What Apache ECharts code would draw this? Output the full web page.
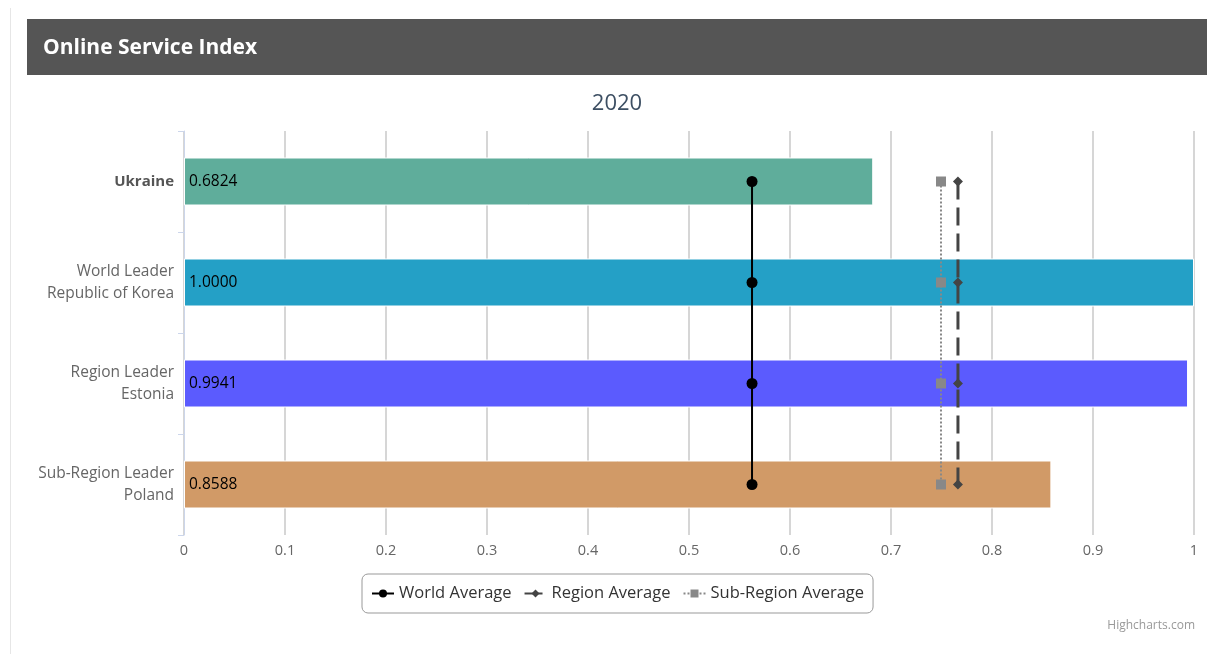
<!DOCTYPE html>
<html>
<head>
<meta charset="utf-8">
<script src="https://cdn.jsdelivr.net/npm/echarts@6/dist/echarts.min.js"></script>
<style>
  html, body { margin: 0; padding: 0; background: #fff; }
  #chart { width: 1209px; height: 654px; }
</style>
</head>
<body>
<div id="chart"></div>
<script>
// Online Service Index, 2020
const categories = [
  'Ukraine',
  'World Leader\nRepublic of Korea',
  'Region Leader\nEstonia',
  'Sub-Region Leader\nPoland'
];
const scores = [0.6824, 1.0000, 0.9941, 0.8588];
const barColors = ['#5fad9b', '#24a0c6', '#5b5bfe', '#d19a67'];
const worldAverage = 0.5624;
const regionAverage = 0.7663;
const subRegionAverage = 0.7495;
const xTicks = [0, 0.1, 0.2, 0.3, 0.4, 0.5, 0.6, 0.7, 0.8, 0.9, 1];

const font = '"Open Sans", "Noto Sans", sans-serif';

const chart = echarts.init(document.getElementById('chart'));

function flatLine(v) {
  return categories.map(c => [v, c]);
}

chart.setOption({
  animation: false,
  textStyle: { fontFamily: font },
  graphic: [
    { type: 'line', shape: { x1: 10.5, y1: 8, x2: 10.5, y2: 654 }, style: { stroke: '#e6e6e6', lineWidth: 1 } },
    { type: 'rect', shape: { x: 27, y: 19, width: 1180, height: 56 }, style: { fill: '#555555' } },
    { type: 'text', x: 43, y: 48, style: { text: 'Online Service Index', fill: '#ffffff', font: 'bold 21px ' + font, textVerticalAlign: 'middle' } },
    { type: 'text', x: 617, y: 104, style: { text: '2020', fill: '#3d4f63', font: '22px ' + font, textAlign: 'center', textVerticalAlign: 'middle' } },
    { type: 'text', x: 1195, y: 626, style: { text: 'Highcharts.com', fill: '#999999', font: '12px ' + font, textAlign: 'right', textVerticalAlign: 'middle' } }
  ],
  grid: { left: 184, right: 15, top: 131, bottom: 119, containLabel: false },
  legend: {
    top: 574,
    left: 362,
    itemGap: 12,
    itemWidth: 22,
    itemHeight: 10,
    padding: [11, 9, 11, 9],
    borderColor: '#999999',
    borderWidth: 1,
    borderRadius: 6,
    textStyle: { fontSize: 16.5, color: '#333333', fontFamily: font },
    data: ['World Average', 'Region Average', 'Sub-Region Average']
  },
  xAxis: {
    type: 'value',
    min: 0,
    max: 1,
    interval: 0.1,
    axisLine: { show: false },
    axisTick: { show: false },
    splitLine: { show: true, lineStyle: { color: '#d6d6d6', width: 2 } },
    axisLabel: {
      color: '#666666',
      fontSize: 14.5,
      margin: 8,
      formatter: v => {
        const t = xTicks.find(x => Math.abs(x - v) < 1e-9);
        return t === undefined ? '' : String(t);
      }
    }
  },
  yAxis: {
    type: 'category',
    inverse: true,
    data: categories,
    axisLine: { show: true, lineStyle: { color: '#ccd6eb', width: 1 } },
    axisTick: { show: true, length: 6, lineStyle: { color: '#ccd6eb' } },
    axisLabel: {
      margin: 10,
      fontSize: 15.5,
      lineHeight: 22,
      color: '#666666',
      align: 'right',
      formatter: v => v === 'Ukraine' ? '{b|' + v + '}' : v,
      rich: { b: { fontWeight: 'bold', color: '#555555', fontSize: 15, fontFamily: font } }
    }
  },
  series: [
    {
      type: 'bar',
      name: 'Score',
      barWidth: 48,
      data: scores.map((v, i) => ({
        value: v,
        itemStyle: { color: barColors[i], borderColor: '#ffffff', borderWidth: 1 }
      })),
      label: {
        show: true,
        position: 'insideLeft',
        distance: 5,
        color: '#000000',
        fontSize: 15.5,
        fontFamily: font,
        formatter: p => p.value.toFixed(4)
      },
      z: 2
    },
    {
      type: 'line',
      name: 'World Average',
      data: flatLine(worldAverage),
      symbol: 'circle',
      symbolSize: 11,
      lineStyle: { color: '#000000', width: 2 },
      itemStyle: { color: '#000000' },
      z: 5
    },
    {
      type: 'line',
      name: 'Region Average',
      data: flatLine(regionAverage),
      symbol: 'diamond',
      symbolSize: 10,
      lineStyle: { color: '#444444', width: 3, type: [18, 8] },
      itemStyle: { color: '#444444' },
      z: 5
    },
    {
      type: 'line',
      name: 'Sub-Region Average',
      data: flatLine(subRegionAverage),
      symbol: 'rect',
      symbolSize: 10,
      lineStyle: { color: '#888888', width: 2, type: [2, 2] },
      itemStyle: { color: '#888888' },
      z: 4
    }
  ]
});
</script>
</body>
</html>
